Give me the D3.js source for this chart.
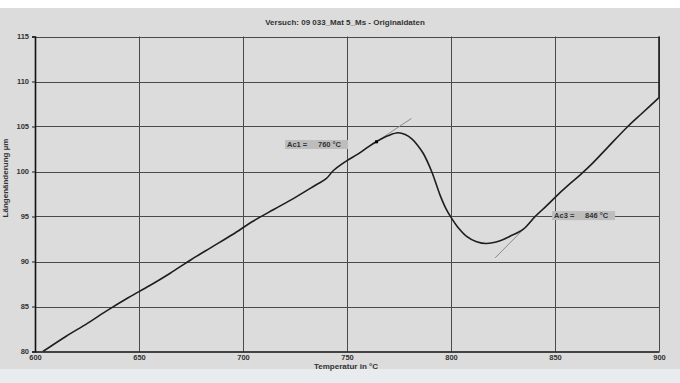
<!DOCTYPE html>
<html>
<head>
<meta charset="utf-8">
<script src="https://cdn.jsdelivr.net/npm/d3@7"></script>
<style>
  body { margin: 0; background: #ffffff; }
  svg { display: block; font-family: "Liberation Sans", Arial, sans-serif; }
</style>
</head>
<body>
<div id="chart"></div>
<script>
// Dilatometer curve
const temps = [603.8, 615, 625, 635, 645, 655, 665, 675, 685, 695, 705, 715, 725, 735, 740,
  743, 745, 750, 755, 760, 764, 770, 774.5, 778, 781.3, 784, 786.7, 790.7, 794.7, 797.5, 800,
  803, 807.5, 812.3, 817, 823.6, 828.4, 834.8, 840.4, 846, 850.8, 856, 862, 868, 875, 885, 892, 900];
const lengths = [80.0, 81.7, 83.1, 84.6, 86.0, 87.3, 88.7, 90.2, 91.6, 93.0, 94.5, 95.8, 97.1, 98.5, 99.2,
  100.0, 100.4, 101.2, 101.9, 102.7, 103.3, 104.0, 104.3, 104.1, 103.6, 102.9, 102.0, 100.0, 97.4, 95.9, 94.9,
  93.9, 92.8, 92.2, 92.0, 92.3, 92.8, 93.6, 95.0, 96.2, 97.3, 98.4, 99.6, 100.9, 102.6, 105.0, 106.5, 108.2];

// holding at 900 °C: length keeps growing past the top of the plot
const holdTemps = [900, 900];
const holdLengths = [108.2, 116];

const tangentAc1 = [[755, 101.9], [781, 105.9]];
const tangentAc3 = [[821.2, 90.4], [846, 96.2]];
const markerAc1 = [764.2, 103.3];

const labels = [
  { name: 'Ac1 =', value: '760 °C', t: 720.2, y: 103.0 },
  { name: 'Ac3 =', value: '846 °C', t: 848.6, y: 95.1 }
];

const xTicks = [600, 650, 700, 750, 800, 850, 900];
const yTicks = [80, 85, 90, 95, 100, 105, 110, 115];

const W = 680, H = 383;
const svg = d3.select('#chart').append('svg').attr('width', W).attr('height', H);

svg.append('rect').attr('width', W).attr('height', H).attr('fill', '#dcdcdc');
svg.append('rect').attr('width', W).attr('height', 8).attr('fill', '#ffffff');
svg.append('rect').attr('y', 369).attr('width', W).attr('height', H - 369).attr('fill', '#e8ecef');

const x = d3.scaleLinear().domain([600, 900]).range([35, 659]);
const y = d3.scaleLinear().domain([80, 115]).range([351.5, 36.5]);

// grid
svg.append('g').selectAll('line').data(xTicks.slice(1)).join('line')
  .attr('x1', d => Math.round(x(d)) + 0.5).attr('x2', d => Math.round(x(d)) + 0.5)
  .attr('y1', y(115)).attr('y2', y(80))
  .attr('stroke', '#4a4a4a').attr('stroke-width', 1);
svg.append('g').selectAll('line').data(yTicks.slice(1)).join('line')
  .attr('x1', x(600)).attr('x2', x(900))
  .attr('y1', d => Math.round(y(d)) + 0.5).attr('y2', d => Math.round(y(d)) + 0.5)
  .attr('stroke', '#4a4a4a').attr('stroke-width', 1);

// axes
const yAxis = svg.append('g').attr('transform', `translate(${x(600)},0)`)
  .call(d3.axisLeft(y).tickValues(yTicks).tickSize(3).tickPadding(3));
const xAxis = svg.append('g').attr('transform', `translate(0,${y(80)})`)
  .call(d3.axisBottom(x).tickValues(xTicks).tickSize(0).tickPadding(3).tickFormat(d3.format('d')));
[xAxis, yAxis].forEach(g => {
  g.select('.domain').attr('stroke', '#111').attr('stroke-width', 1.6);
  g.selectAll('line').attr('stroke', '#222');
  g.selectAll('text').attr('fill', '#333').style('font-size', '7.5px').style('font-weight', 'bold')
    .style('font-family', '"Liberation Sans", Arial, sans-serif');
});

// clip
svg.append('clipPath').attr('id', 'plot-clip').append('rect')
  .attr('x', x(600)).attr('y', y(115)).attr('width', x(900) - x(600) + 1).attr('height', y(80) - y(115));

const plot = svg.append('g').attr('clip-path', 'url(#plot-clip)');

const tLine = d3.line().x(d => x(d[0])).y(d => y(d[1]));
[tangentAc1, tangentAc3].forEach(t => {
  plot.append('path').attr('d', tLine(t)).attr('fill', 'none')
    .attr('stroke', '#8a8a8a').attr('stroke-width', 1);
});

const curve = d3.line()
  .x((d, i) => x(temps[i]))
  .y((d, i) => y(lengths[i]))
  .curve(d3.curveCatmullRom.alpha(0.5));
plot.append('path').datum(temps).attr('d', curve)
  .attr('fill', 'none').attr('stroke', '#1e1e1e').attr('stroke-width', 1.6)
  .attr('stroke-linejoin', 'round');

const hold = d3.line()
  .x((d, i) => x(holdTemps[i]))
  .y((d, i) => y(holdLengths[i]));
plot.append('path').datum(holdTemps).attr('d', hold)
  .attr('fill', 'none').attr('stroke', '#1e1e1e').attr('stroke-width', 1.6);

plot.append('rect')
  .attr('x', x(markerAc1[0]) - 1.5).attr('y', y(markerAc1[1]) - 1.5)
  .attr('width', 3).attr('height', 3).attr('fill', '#000');

// Ac labels
labels.forEach(l => {
  const g = svg.append('g').attr('transform', `translate(${x(l.t)},${y(l.y)})`);
  g.append('rect').attr('x', 0).attr('y', -4.5).attr('width', 63).attr('height', 9).attr('fill', '#bdbdbd');
  g.append('text').attr('x', 2).attr('y', 2.7).attr('fill', '#333')
    .style('font-size', '7.5px').style('font-weight', 'bold').text(l.name);
  g.append('text').attr('x', 33).attr('y', 2.7).attr('fill', '#333')
    .style('font-size', '7.5px').style('font-weight', 'bold').text(l.value);
});

// titles
svg.append('text').attr('x', 345).attr('y', 25).attr('text-anchor', 'middle')
  .attr('fill', '#333').style('font-size', '8px').style('font-weight', 'bold')
  .text('Versuch: 09 033_Mat 5_Ms - Originaldaten');
svg.append('text').attr('x', 346).attr('y', 369).attr('text-anchor', 'middle')
  .attr('fill', '#333').style('font-size', '8px').style('font-weight', 'bold')
  .text('Temperatur in °C');
svg.append('text').attr('transform', 'translate(8,178) rotate(-90)').attr('text-anchor', 'middle')
  .attr('fill', '#333').style('font-size', '8px').style('font-weight', 'bold')
  .text('Längenänderung µm');
</script>
</body>
</html>
